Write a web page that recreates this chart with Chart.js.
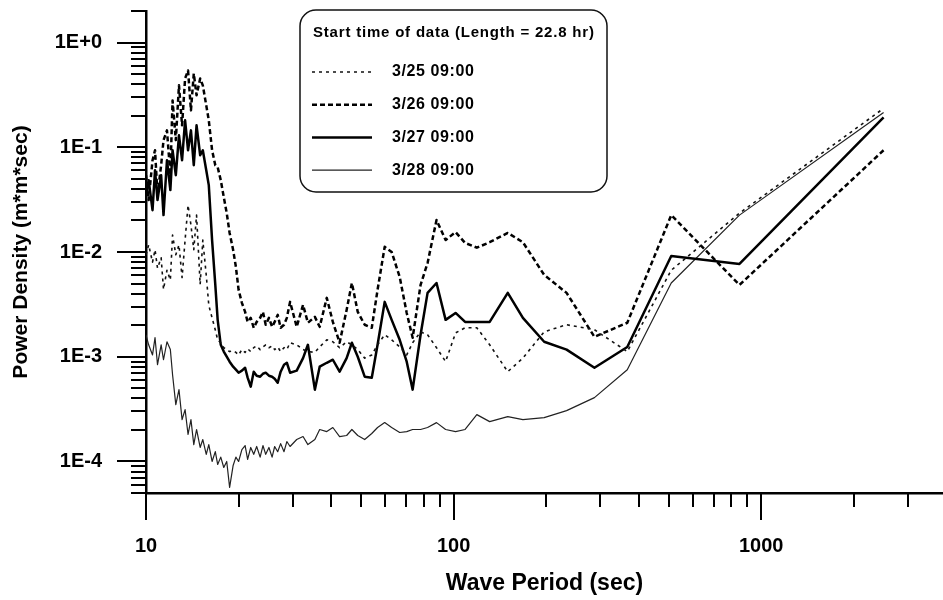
<!DOCTYPE html>
<html>
<head>
<meta charset="utf-8">
<script src="https://cdn.jsdelivr.net/npm/chart.js@4.4.1/dist/chart.umd.min.js"></script>
<style>
  html, body { margin: 0; padding: 0; background: #fff; }
  canvas { display: block; }
</style>
</head>
<body>
<canvas id="espectro" width="943" height="600"></canvas>
<script>
// wave period (sec), shared by all four spectra
const periods = [
  10.0, 10.2, 10.5, 10.7, 10.9, 11.2, 11.4, 11.7, 12.0, 12.2, 12.5, 12.8, 13.1, 13.4, 13.7, 14.0,
  14.3, 14.6, 15.0, 15.3, 15.7, 16.0, 16.4, 16.8, 17.1, 17.5, 17.9, 18.3, 18.7, 19.2, 19.6, 20.0,
  20.5, 21.0, 21.4, 21.9, 22.4, 22.9, 23.5, 24.0, 24.5, 25.1, 25.7, 26.2, 26.8, 27.4, 28.1, 28.7,
  29.4, 30.9, 32.4, 33.6, 35.4, 36.7, 38.7, 40.5, 42.6, 44.9, 46.7, 48.8, 51.4, 54.2, 56.6, 59.7,
  62.9, 66.8, 70.4, 73.6, 78.1, 82.3, 88.0, 94.2, 101.5, 109, 119, 131, 150, 168, 197, 233,
  287, 367, 510, 850, 2500
];

// power density (m*m*sec)
const serie0325 = [
  9.4e-3, 1.17e-2, 8.0e-3, 1.05e-2, 7.0e-3, 8.8e-3, 4.4e-3, 6.7e-3, 5.4e-3, 1.45e-2, 9.4e-3, 1.17e-2,
  5.7e-3, 1.30e-2, 2.8e-2, 1.81e-2, 1.05e-2, 2.25e-2, 4.9e-3, 1.30e-2, 6.0e-3, 3.1e-3, 2.35e-3, 1.8e-3,
  1.45e-3, 1.36e-3, 1.22e-3, 1.17e-3, 1.12e-3, 1.14e-3, 1.10e-3, 1.04e-3, 1.17e-3, 1.10e-3, 1.19e-3, 1.12e-3,
  1.22e-3, 1.27e-3, 1.17e-3, 1.24e-3, 1.30e-3, 1.22e-3, 1.27e-3, 1.17e-3, 1.24e-3, 1.12e-3, 1.22e-3, 1.17e-3,
  1.36e-3, 1.30e-3, 1.17e-3, 1.12e-3, 1.10e-3, 1.24e-3, 1.45e-3, 1.39e-3, 1.22e-3, 1.39e-3, 1.30e-3, 1.17e-3,
  9.7e-4, 1.04e-3, 1.30e-3, 1.62e-3, 1.45e-3, 1.24e-3, 1.04e-3, 1.36e-3, 1.73e-3, 1.62e-3, 1.22e-3, 9.0e-4,
  1.69e-3, 1.89e-3, 1.89e-3, 1.30e-3, 7.2e-4, 9.7e-4, 1.73e-3, 2.02e-3, 1.81e-3, 1.12e-3, 6.7e-3, 2.35e-2,
  0.235
];
const serie0326 = [
  0.0541, 0.0313, 0.0752, 0.0936, 0.0349, 0.0674, 0.117, 0.145, 0.0541, 0.280, 0.117, 0.390,
  0.162, 0.454, 0.541, 0.225, 0.506, 0.313, 0.454, 0.390, 0.251, 0.181, 0.0936, 0.0674,
  0.0645, 0.0485, 0.0334, 0.0235, 0.0152, 0.01045, 0.0072, 0.00435, 0.00327, 0.00268, 0.00215, 0.00235,
  0.00189, 0.00215, 0.00235, 0.00268, 0.00202, 0.00235, 0.00193, 0.00215, 0.00251, 0.00189, 0.00202, 0.00235,
  0.00334, 0.00193, 0.00313, 0.00211, 0.00240, 0.00193, 0.00365, 0.00215, 0.00136, 0.00280, 0.00506, 0.00268,
  0.00202, 0.00189, 0.00435, 0.0112, 0.0100, 0.00578, 0.00262, 0.00152, 0.00485, 0.00785, 0.0202, 0.0130,
  0.0155, 0.0122, 0.0110, 0.0124, 0.0152, 0.0124, 0.00604, 0.00407, 0.00155, 0.00211, 0.0225, 0.00485,
  0.0936
];
const serie0327 = [
  0.0349, 0.0485, 0.0251, 0.0604, 0.0313, 0.0541, 0.0225, 0.0752, 0.0390, 0.0936, 0.0541, 0.130,
  0.0752, 0.181, 0.0936, 0.145, 0.0674, 0.162, 0.0839, 0.0936, 0.0604, 0.0435, 0.0130, 0.00485,
  0.00225, 0.00130, 0.00112, 1.0e-3, 8.96e-4, 8.03e-4, 7.52e-4, 7.04e-4, 7.36e-4, 7.85e-4, 6.31e-4, 5.18e-4,
  7.2e-4, 6.59e-4, 6.45e-4, 6.88e-4, 7.04e-4, 6.59e-4, 6.45e-4, 6.17e-4, 5.65e-4, 7.2e-4, 8.39e-4, 8.76e-4,
  7.04e-4, 7.36e-4, 9.7e-4, 1.30e-3, 4.85e-4, 8.03e-4, 8.76e-4, 9.36e-4, 7.2e-4, 9.7e-4, 1.36e-3, 1.0e-3,
  6.45e-4, 6.31e-4, 1.30e-3, 3.34e-3, 2.25e-3, 1.45e-3, 8.96e-4, 4.85e-4, 1.62e-3, 4.07e-3, 5.06e-3, 2.25e-3,
  2.62e-3, 2.15e-3, 2.15e-3, 2.15e-3, 4.07e-3, 2.35e-3, 1.39e-3, 1.17e-3, 7.85e-4, 1.24e-3, 9.15e-3, 7.69e-3,
  0.193
];
const serie0328 = [
  1.62e-3, 1.30e-3, 1.04e-3, 1.52e-3, 8.39e-4, 1.30e-3, 9.36e-4, 1.39e-3, 1.17e-3, 6.74e-4, 3.49e-4, 4.85e-4,
  2.51e-4, 3.13e-4, 1.81e-4, 2.51e-4, 1.45e-4, 2.02e-4, 1.36e-4, 1.62e-4, 1.17e-4, 1.45e-4, 1.0e-4, 1.24e-4,
  9.36e-5, 1.10e-4, 8.76e-5, 1.0e-4, 5.65e-5, 9.16e-5, 1.10e-4, 1.0e-4, 1.30e-4, 1.42e-4, 1.045e-4, 1.36e-4,
  1.17e-4, 1.39e-4, 1.10e-4, 1.42e-4, 1.17e-4, 1.36e-4, 1.10e-4, 1.39e-4, 1.24e-4, 1.48e-4, 1.24e-4, 1.55e-4,
  1.39e-4, 1.62e-4, 1.73e-4, 1.45e-4, 1.62e-4, 2.02e-4, 1.93e-4, 2.11e-4, 1.73e-4, 1.77e-4, 2.02e-4, 1.77e-4,
  1.62e-4, 1.85e-4, 2.11e-4, 2.35e-4, 2.11e-4, 1.89e-4, 1.93e-4, 2.02e-4, 2.02e-4, 2.11e-4, 2.35e-4, 2.02e-4,
  1.93e-4, 2.02e-4, 2.80e-4, 2.40e-4, 2.68e-4, 2.51e-4, 2.62e-4, 3.06e-4, 4.07e-4, 7.52e-4, 5.06e-3, 0.0225,
  0.215
];

const seriesLabels = ["3/25 09:00", "3/26 09:00", "3/27 09:00", "3/28 09:00"];
const legendTitle = "Start time of data (Length = 22.8 hr)";
const xTicks = [10, 100, 1000];
const xTickLabels = ["10", "100", "1000"];
const yTicks = [1e-4, 1e-3, 1e-2, 1e-1, 1];
const yTickLabels = ["1E-4", "1E-3", "1E-2", "1E-1", "1E+0"];

const fuente = '"Liberation Sans", Arial, sans-serif';
Chart.defaults.font.family = fuente;
Chart.defaults.color = "#000";

function puntos(valores) {
  return periods.map((p, i) => ({ x: p, y: valores[i] }));
}

// tick marks: long at decades, short at the 2..9 multiples
const marcas = {
  id: "marcas",
  afterDraw(chart) {
    const ctx = chart.ctx;
    const xs = chart.scales.x;
    const ys = chart.scales.y;
    const area = chart.chartArea;
    ctx.save();
    ctx.strokeStyle = "#000";
    ctx.lineWidth = 2;
    ctx.beginPath();
    for (let d = 10; d <= 1000; d *= 10) {
      for (let m = 1; m <= 9; m++) {
        const v = d * m;
        if (v < xs.min || v > xs.max) continue;
        const px = Math.round(xs.getPixelForValue(v));
        ctx.moveTo(px, area.bottom);
        ctx.lineTo(px, area.bottom + (m === 1 ? 27 : 14));
      }
    }
    for (let e = -5; e <= 0; e++) {
      for (let m = 1; m <= 9; m++) {
        const v = m * Math.pow(10, e);
        if (v < ys.min * 0.999 || v > ys.max * 1.001) continue;
        const py = Math.round(ys.getPixelForValue(v));
        ctx.moveTo(area.left, py);
        ctx.lineTo(area.left - (m === 1 ? 29 : 15), py);
      }
    }
    ctx.stroke();
    ctx.restore();
  }
};

// boxed legend with title
const leyenda = {
  id: "leyenda",
  afterDraw(chart) {
    const ctx = chart.ctx;
    ctx.save();
    ctx.fillStyle = "#fff";
    ctx.strokeStyle = "#111";
    ctx.lineWidth = 1.5;
    ctx.beginPath();
    ctx.roundRect(300, 10, 307, 182, 16);
    ctx.fill();
    ctx.stroke();
    ctx.fillStyle = "#000";
    ctx.textBaseline = "middle";
    ctx.font = "bold 15px " + fuente;
    ctx.letterSpacing = "0.8px";
    ctx.fillText(legendTitle, 313, 33);
    chart.data.datasets.forEach((ds, i) => {
      const y = 72 + i * 32.7;
      ctx.setLineDash(ds.borderDash || []);
      ctx.lineWidth = ds.borderWidth;
      ctx.strokeStyle = ds.borderColor;
      ctx.beginPath();
      ctx.moveTo(312, y);
      ctx.lineTo(372, y);
      ctx.stroke();
      ctx.setLineDash([]);
      ctx.font = "bold 16px " + fuente;
      ctx.letterSpacing = "0.6px";
      ctx.fillText(ds.label, 392, y);
    });
    ctx.letterSpacing = "0px";
    ctx.restore();
  }
};

new Chart(document.getElementById("espectro"), {
  type: "line",
  data: {
    datasets: [
      { label: seriesLabels[0], data: puntos(serie0325), borderColor: "#111", borderWidth: 1.6, borderDash: [3, 4] },
      { label: seriesLabels[1], data: puntos(serie0326), borderColor: "#000", borderWidth: 2.5, borderDash: [5, 3] },
      { label: seriesLabels[2], data: puntos(serie0327), borderColor: "#000", borderWidth: 2.5 },
      { label: seriesLabels[3], data: puntos(serie0328), borderColor: "#222", borderWidth: 1.2 }
    ]
  },
  options: {
    responsive: false,
    animation: false,
    events: [],
    elements: {
      point: { radius: 0 },
      line: { tension: 0, borderJoinStyle: "round" }
    },
    layout: { padding: { top: 11, right: 0, left: 0, bottom: 0 } },
    plugins: {
      legend: { display: false },
      tooltip: { enabled: false }
    },
    scales: {
      x: {
        type: "logarithmic",
        min: 10,
        max: 3900,
        grid: { display: false, drawTicks: true, tickLength: 42 },
        border: { display: true, color: "#000", width: 2.5 },
        afterBuildTicks: (s) => { s.ticks = xTicks.map(v => ({ value: v })); },
        afterFit: (s) => { s.height = 107; },
        ticks: {
          autoSkip: false,
          maxRotation: 0,
          padding: 0,
          font: { size: 20, weight: "bold", lineHeight: 1.1 },
          callback: (v, i) => xTickLabels[i]
        },
        title: {
          display: true,
          text: "Wave Period (sec)",
          font: { size: 23, weight: "bold" },
          padding: { top: 0, bottom: 3 }
        }
      },
      y: {
        type: "logarithmic",
        min: 5e-5,
        max: 2,
        grid: { display: false, drawTicks: true, tickLength: 44 },
        border: { display: true, color: "#000", width: 2.5 },
        afterBuildTicks: (s) => { s.ticks = yTicks.map(v => ({ value: v })); },
        afterFit: (s) => { s.width = 146; },
        ticks: {
          autoSkip: false,
          padding: 0,
          font: { size: 20, weight: "bold", lineHeight: 1.1 },
          callback: (v, i) => yTickLabels[i]
        },
        title: {
          display: true,
          text: "Power Density (m*m*sec)",
          font: { size: 21, weight: "bold" },
          padding: { top: 9, bottom: 0 }
        }
      }
    }
  },
  plugins: [marcas, leyenda]
});
</script>
</body>
</html>
